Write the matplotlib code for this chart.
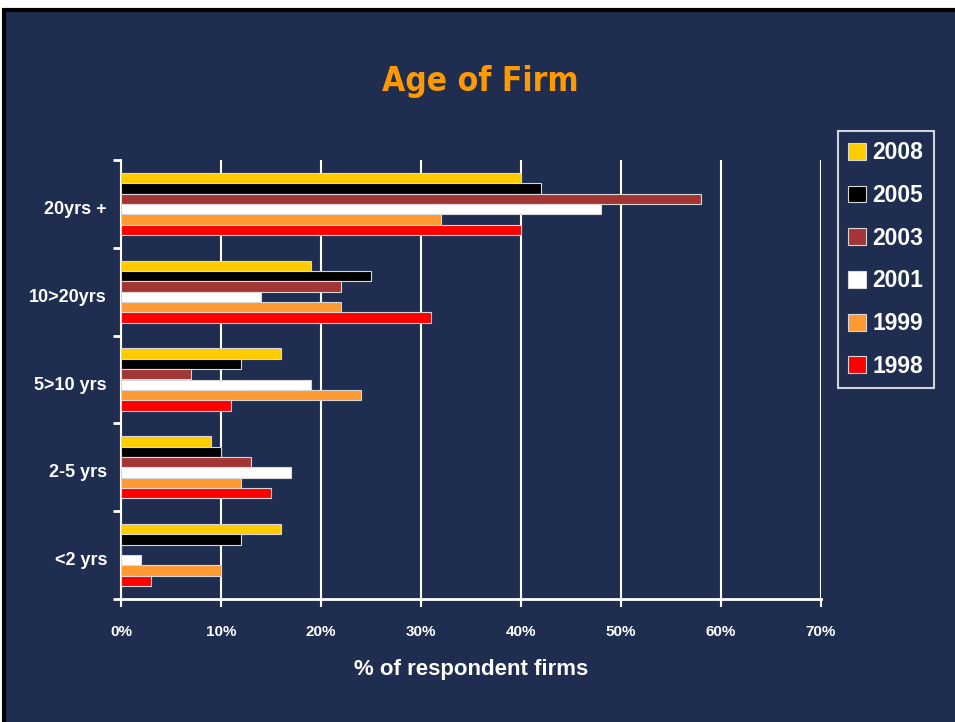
import matplotlib
matplotlib.use("Agg")
import matplotlib.pyplot as plt
import numpy as np
from matplotlib.patches import Rectangle, Patch
from matplotlib.ticker import FuncFormatter, FixedLocator

categories = ["20yrs +", "10>20yrs", "5>10 yrs", "2-5 yrs", "<2 yrs"]
years = ["2008", "2005", "2003", "2001", "1999", "1998"]
v2008 = [40, 19, 16, 9, 16]
v2005 = [42, 25, 12, 10, 12]
v2003 = [58, 22, 7, 13, 0]
v2001 = [48, 14, 19, 17, 2]
v1999 = [32, 22, 24, 12, 10]
v1998 = [40, 31, 11, 15, 3]
series = [v2008, v2005, v2003, v2001, v1999, v1998]
colors = ["#ffcc00", "#000000", "#a33535", "#ffffff", "#ff9933", "#ff0000"]

NAVY = "#1f2d50"
plt.rcParams['font.family'] = ['Liberation Sans', 'DejaVu Sans']

fig = plt.figure(figsize=(9.55, 7.22), dpi=100, facecolor="white")
fig.patches.append(Rectangle((4/955, -0.05), 1.1, 1 - 10/722 + 0.05,
                             transform=fig.transFigure, facecolor=NAVY,
                             edgecolor="black", linewidth=3, zorder=-10))

ax = fig.add_axes([121/955, 1 - 599/722, 700/955, 439/722])
ax.set_facecolor("none")

n = len(years)
h = 0.118
y = np.arange(len(categories))
for k, (vals, col) in enumerate(zip(series, colors)):
    offs = (k - (n - 1) / 2) * h
    ax.barh(y + offs, vals, height=h, color=col, edgecolor="#d8d8d8",
            linewidth=0.8, zorder=3, label=years[k])

ax.set_xlim(0, 70)
ax.set_ylim(len(categories) - 0.5, -0.5)
ax.set_xticks(np.arange(0, 71, 10))
ax.xaxis.set_major_formatter(FuncFormatter(lambda v, p: f"{int(v)}%"))
ax.grid(axis="x", color="white", linewidth=1.5, zorder=1)
ax.set_axisbelow(True)
ax.set_yticks(y + 0.04)
ax.set_yticklabels(categories)
ax.yaxis.set_minor_locator(FixedLocator(np.arange(-0.5, len(categories), 1)))
ax.tick_params(axis="y", which="major", length=0, pad=10, colors="white",
               labelsize=13)
ax.tick_params(axis="y", which="minor", length=6, width=2, color="white")
ax.tick_params(axis="x", which="major", length=6, width=1.5, color="white",
               labelcolor="white", labelsize=11, pad=13)
for lab in ax.get_xticklabels() + ax.get_yticklabels():
    lab.set_fontweight("bold")
for s in ["top", "right"]:
    ax.spines[s].set_visible(False)
ax.spines["left"].set_color("white")
ax.spines["left"].set_linewidth(1.5)
ax.spines["bottom"].set_color("white")
ax.spines["bottom"].set_linewidth(2)

ax.set_xlabel("% of respondent firms", color="white", fontsize=16,
              fontweight="bold", labelpad=14)

fig.text(480/955, 1 - 81/722, "Age of Firm", color="#ff9900", fontsize=24,
         fontweight="bold", ha="center", va="center",
         family=["DejaVu Sans"], fontstretch="condensed")

handles = [Patch(facecolor=c, edgecolor="#d8d8d8", linewidth=0.8) for c in colors]
leg = fig.legend(handles, years, loc="upper left",
                 bbox_to_anchor=(838/955, 1 - 131/722),
                 frameon=True, fancybox=False, facecolor="none",
                 edgecolor="white", fontsize=16.5, labelspacing=0.86,
                 handlelength=0.75, handleheight=0.75, handletextpad=0.3,
                 borderpad=0.45, borderaxespad=0)
leg.get_frame().set_linewidth(1.5)
for t in leg.get_texts():
    t.set_color("white")
    t.set_fontweight("bold")

fig.savefig("out.png", dpi=100, facecolor=fig.get_facecolor())
